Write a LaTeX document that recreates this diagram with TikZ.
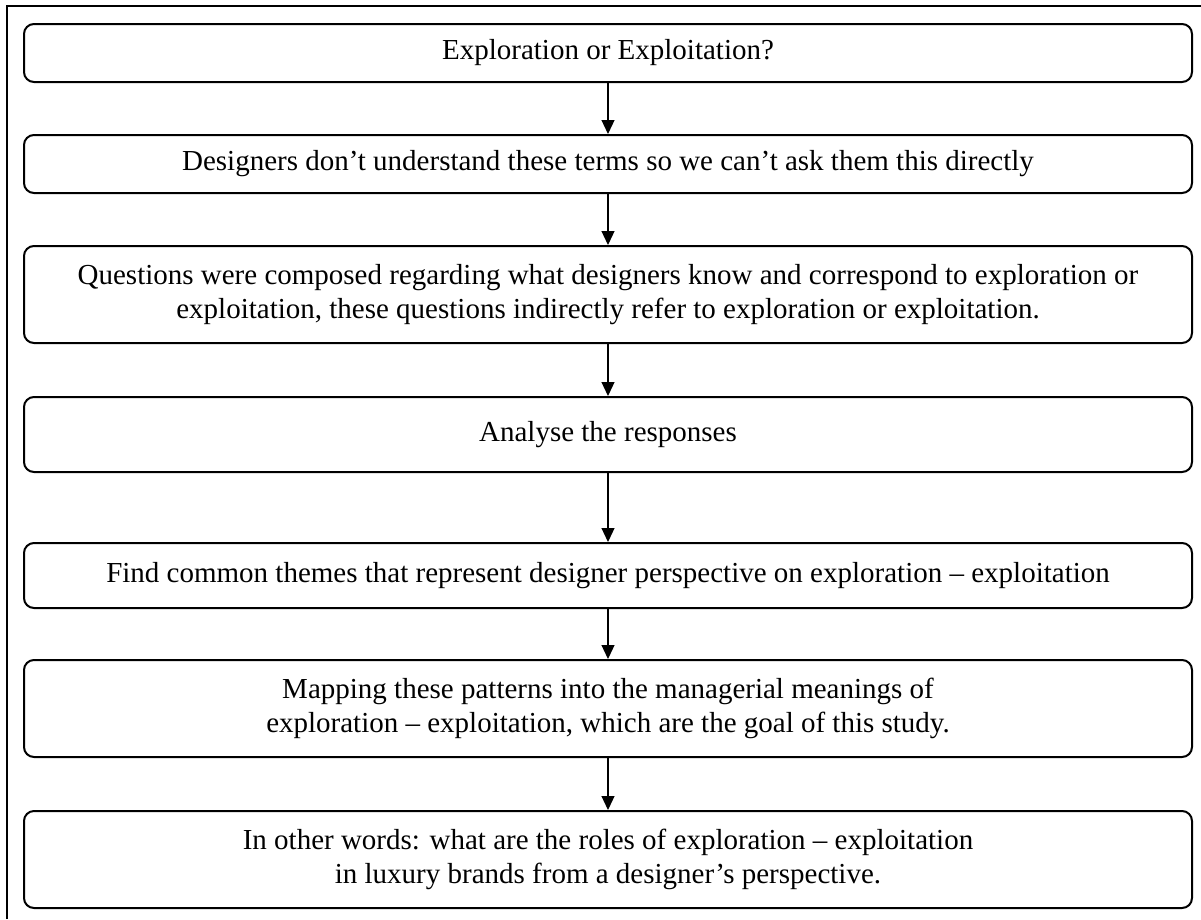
\documentclass[tikz,border=0pt]{standalone}
\usepackage{fontspec}
\setmainfont{Liberation Serif}
\usetikzlibrary{arrows.meta}
\begin{document}
\begin{tikzpicture}[x=1pt,y=-1pt,
  stepbox/.style={draw=black, line width=2pt, rounded corners=10pt,
    minimum width=1168pt, inner sep=0pt, align=center,
    font=\fontsize{29}{34}\selectfont},
  flow/.style={draw=black, line width=1.2pt,
    -{Triangle[width=13pt,length=14pt]}}]
\useasboundingbox (0,0) rectangle (1201,919);
% outer frame (left and top edges)
\draw[line width=2pt] (7,919) -- (7,5.5) -- (1201,5.5);
% process steps
\node[stepbox, minimum height=58pt] (b1) at (608,53) {Exploration or Exploitation?};
\node[stepbox, minimum height=58pt] (b2) at (608,164) {Designers don’t understand these terms so we can’t ask them this directly};
\node[stepbox, minimum height=97pt] (b3) at (608,294.5) {Questions were composed regarding what designers know and correspond to exploration or\\exploitation, these questions indirectly refer to exploration or exploitation.};
\node[stepbox, minimum height=75pt] (b4) at (608,434.5) {Analyse the responses};
\node[stepbox, minimum height=65pt] (b5) at (608,575.5) {Find common themes that represent designer perspective on exploration – exploitation};
\node[stepbox, minimum height=97pt] (b6) at (608,708.5) {Mapping these patterns into the managerial meanings of\\exploration – exploitation, which are the goal of this study.};
\node[stepbox, minimum height=97pt] (b7) at (608,859.5) {In other words: what are the roles of exploration – exploitation\\in luxury brands from a designer’s perspective.};
% connectors
\foreach \a/\b in {b1/b2,b2/b3,b3/b4,b4/b5,b5/b6,b6/b7}
  \draw[flow] (\a.south) -- (\b.north);
\end{tikzpicture}
\end{document}
